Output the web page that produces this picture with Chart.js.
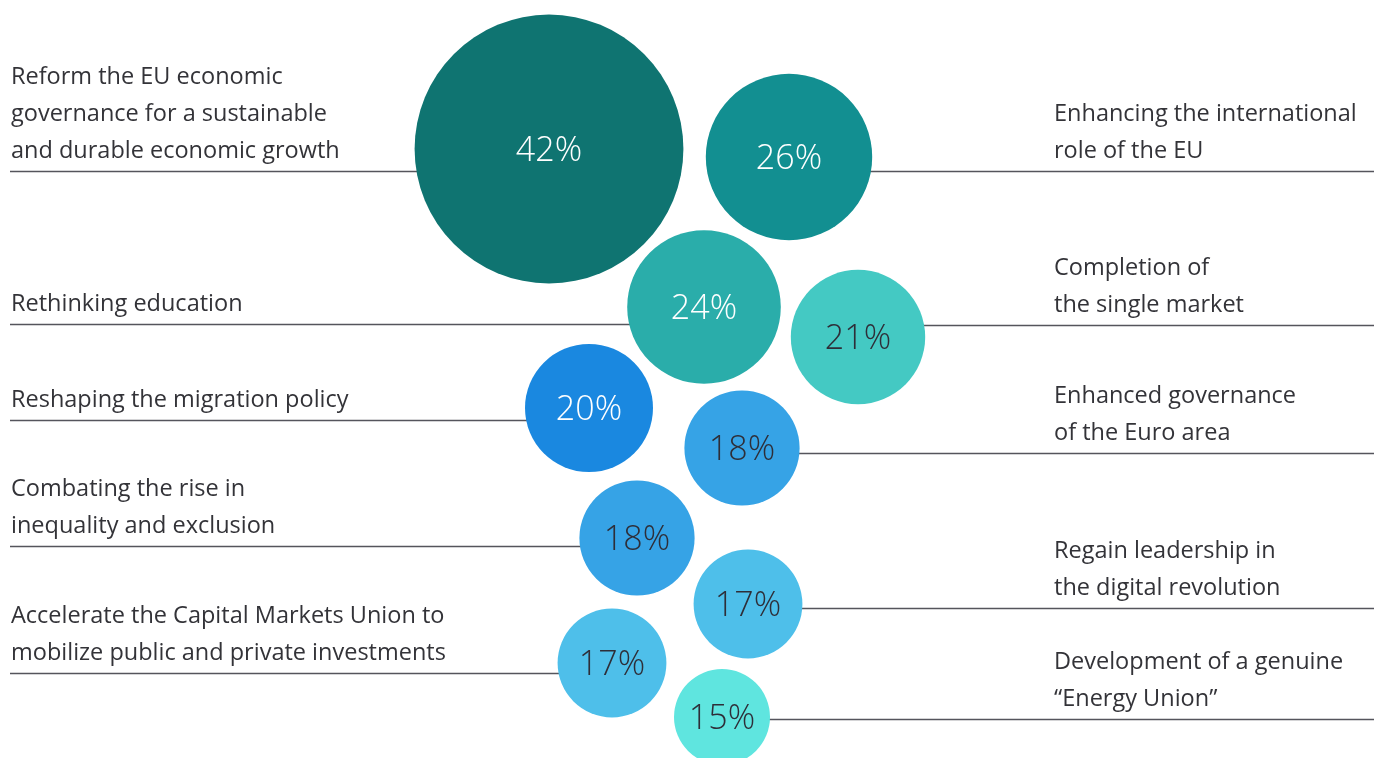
<!DOCTYPE html>
<html>
<head>
<meta charset="utf-8">
<script src="https://cdn.jsdelivr.net/npm/chart.js@4.4.1/dist/chart.umd.min.js"></script>
<style>
  html, body { margin: 0; padding: 0; background: #ffffff; }
  #wrap { width: 1374px; height: 758px; position: relative; }
</style>
</head>
<body>
<div id="wrap"><canvas id="c" width="1374" height="758"></canvas></div>
<script>
// ---- Data ----
const categories = [
  ["Reform the EU economic", "governance for a sustainable", "and durable economic growth"],
  ["Enhancing the international", "role of the EU"],
  ["Rethinking education"],
  ["Completion of", "the single market"],
  ["Reshaping the migration policy"],
  ["Enhanced governance", "of the Euro area"],
  ["Combating the rise in", "inequality and exclusion"],
  ["Regain leadership in", "the digital revolution"],
  ["Accelerate the Capital Markets Union to", "mobilize public and private investments"],
  ["Development of a genuine", "\u201cEnergy Union\u201d"]
];
const values = [42, 26, 24, 21, 20, 18, 18, 17, 17, 15];
const labelSide = ["left", "right", "left", "right", "left", "right", "left", "right", "left", "right"];

// Packed-bubble layout (layout units on a 1374 x 758 grid)
const layoutX = [549, 789, 704, 858, 589, 742, 637, 748, 612, 722];
const layoutY = [149, 157, 307, 337, 408, 448, 538, 604, 663, 717];
const leaderY = [171, 171, 324, 325, 420, 453, 546, 608, 673, 719];

// ---- Styles ----
const colors = ["#0f7471", "#128f91", "#2aadaa", "#44c9c3", "#1a88e0", "#36a3e6", "#36a3e6", "#4ebfea", "#4ebfea", "#5fe5df"];
const pctColors = ["#ffffff", "#ffffff", "#ffffff", "#2e2e38", "#ffffff", "#2e2e38", "#2e2e38", "#2e2e38", "#2e2e38", "#2e2e38"];
const radiusPerPoint = 3.2;
const textColor = "#333338";
const lineColor = "#55555c";
const labelFont = "23.5px 'Open Sans', 'Noto Sans', sans-serif";
const pctFont = "300 34px 'Open Sans', 'Noto Sans', sans-serif";
const lineHeight = 37;

const points = values.map((v, i) => ({ x: layoutX[i], y: layoutY[i], r: v * radiusPerPoint, v }));

const annot = {
  id: 'annot',
  beforeDatasetsDraw(chart) {
    const { ctx, scales: { x, y }, width } = chart;
    ctx.save();
    ctx.strokeStyle = lineColor;
    ctx.lineWidth = 1.5;
    ctx.font = labelFont;
    ctx.fillStyle = textColor;
    ctx.textBaseline = 'middle';
    ctx.textAlign = 'left';
    categories.forEach((lines, i) => {
      const ly = Math.round(y.getPixelForValue(leaderY[i])) + 0.5;
      const cx = x.getPixelForValue(layoutX[i]);
      ctx.beginPath();
      if (labelSide[i] === 'left') {
        ctx.moveTo(x.getPixelForValue(10), ly);
        ctx.lineTo(cx, ly);
      } else {
        ctx.moveTo(cx, ly);
        ctx.lineTo(width, ly);
      }
      ctx.stroke();
      const tx = labelSide[i] === 'left' ? x.getPixelForValue(11) : x.getPixelForValue(1054);
      const n = lines.length;
      lines.forEach((t, k) => {
        const ty = ly - 20 - (n - 1 - k) * lineHeight;
        ctx.fillText(t, tx, ty);
      });
    });
    ctx.restore();
  },
  afterDatasetsDraw(chart) {
    const { ctx } = chart;
    const meta = chart.getDatasetMeta(0);
    ctx.save();
    ctx.font = pctFont;
    ctx.textAlign = 'center';
    ctx.textBaseline = 'middle';
    meta.data.forEach((el, i) => {
      ctx.fillStyle = pctColors[i];
      ctx.fillText(values[i] + '%', el.x, el.y + 2);
    });
    ctx.restore();
  }
};

new Chart(document.getElementById('c'), {
  type: 'bubble',
  data: {
    datasets: [{
      data: points,
      backgroundColor: colors,
      borderWidth: 0,
      hoverBorderWidth: 0
    }]
  },
  options: {
    responsive: false,
    animation: false,
    clip: false,
    layout: { padding: 0, autoPadding: false },
    plugins: { legend: { display: false }, tooltip: { enabled: false } },
    events: [],
    scales: {
      x: { type: 'linear', min: 0, max: 1374, display: false },
      y: { type: 'linear', min: 0, max: 758, reverse: true, display: false }
    }
  },
  plugins: [annot]
});
</script>
</body>
</html>
